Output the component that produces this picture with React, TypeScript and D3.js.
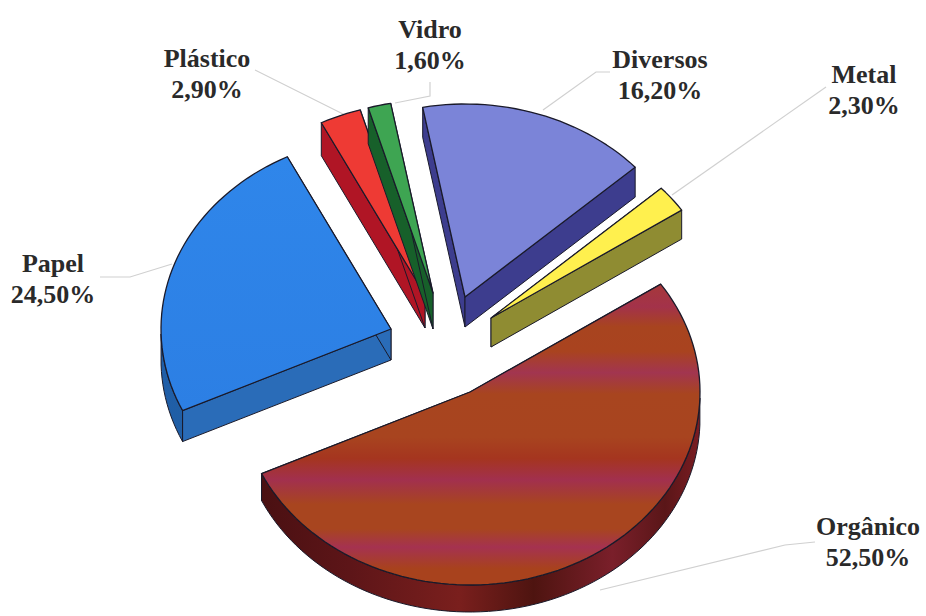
import React from "react";
import * as d3 from "d3";

const categories = ["Orgânico", "Papel", "Plástico", "Vidro", "Diversos", "Metal"];
const percentages = [52.5, 24.5, 2.9, 1.6, 16.2, 2.3];
const percentLabels = ["52,50%", "24,50%", "2,90%", "1,60%", "16,20%", "2,30%"];

// layout of the exploded slices (apex of each slice on the page)
const apexX = [470, 391, 425, 433, 465, 491];
const apexY = [392, 329, 295, 293, 297, 318];
const depths = [27, 31, 33, 36, 30, 29];
const topFills = ["url(#stripes)", "url(#papelTop)", "#ee3a34", "#3ea552", "#7b84d8", "#fff04e"];
const wallFills = ["url(#organicWall)", "url(#papelWall)", "#a81424", "#1f6e34", "url(#diversosWall)", "url(#metalWall)"];
const radialFills = ["#6e1614", "#2a6cb8", "#b01525", "#17602a", "#3d3d8e", "#8f8c32"];

const labelX = [868, 53, 207, 430, 660, 864];
const labelY = [527, 264, 59, 30, 60, 75];
const leaders: [number, number][][] = [
  [[815, 542], [785, 545], [600, 590]],
  [[100, 277], [130, 277], [172, 264]],
  [[255, 70], [345, 115]],
  [[430, 82], [430, 96], [395, 103]],
  [[610, 72], [596, 72], [543, 110]],
  [[826, 87], [672, 195]],
];

const stripeOffsets = [0, 0.075, 0.14, 0.22, 0.29, 0.36, 0.5, 0.57, 0.64, 0.72, 0.8, 0.86, 0.93, 1];
const stripeColors = ["#a6383a", "#a3324a", "#a8441f", "#a9431f", "#a23550", "#a8451f", "#a8441f", "#a5351f", "#a2304e", "#a8451f", "#a8451f", "#a53250", "#a8421d", "#a8421d"];

const RX = 230;
const RY = 193;
const DEG = Math.PI / 180;
const START = 56 * DEG;

const pieGen = d3.pie<number>().sort(null).startAngle(START).endAngle(START + 2 * Math.PI);
const arcs = pieGen(percentages);
const lineGen = d3.line<[number, number]>();

export default function App() {
  const slices = arcs.map((a, i) => {
    const sx = d3.scaleLinear().domain([-1, 1]).range([apexX[i] - RX, apexX[i] + RX]);
    const sy = d3.scaleLinear().domain([-1, 1]).range([apexY[i] - RY, apexY[i] + RY]);
    const pt = (t: number, dz = 0): [number, number] => [sx(Math.sin(t)), sy(-Math.cos(t)) + dz];
    const n = Math.max(4, Math.ceil((a.endAngle - a.startAngle) / (2 * DEG)));
    const angles = d3.range(n + 1).map((k) => a.startAngle + ((a.endAngle - a.startAngle) * k) / n);
    const apex: [number, number] = [sx(0), sy(0)];
    const d = depths[i];
    const apexLow: [number, number] = [apex[0], apex[1] + d];
    const top = lineGen([apex, ...angles.map((t) => pt(t))]) + "Z";
    // outer wall: only the part of the rim facing the viewer
    const front = angles.filter((t) => Math.cos(t) < 0);
    const wall = front.length > 1
      ? lineGen([...front.map((t) => pt(t)), ...front.slice().reverse().map((t) => pt(t, d))]) + "Z"
      : null;
    const face = (t: number) => lineGen([apex, pt(t), pt(t, d), apexLow]) + "Z";
    return { i, top, wall, startFace: face(a.startAngle), endFace: face(a.endAngle) };
  });

  return (
    <svg
      width={926}
      height={616}
      viewBox="0 0 926 616"
      style={{ position: "absolute", left: 0, top: 0, background: "#fff", display: "block" }}
    >
      <defs>
        <linearGradient id="stripes" gradientUnits="userSpaceOnUse" x1="0" x2="0" y1="284" y2="590">
          {stripeOffsets.map((o, k) => (
            <stop key={k} offset={o} stopColor={stripeColors[k]} />
          ))}
        </linearGradient>
        <linearGradient id="papelTop" x1="0" x2="0" y1="0" y2="1">
          <stop offset="0" stopColor="#2f86ea" />
          <stop offset="1" stopColor="#2c7fe4" />
        </linearGradient>
        <linearGradient id="organicWall" gradientUnits="userSpaceOnUse" x1="262" x2="700" y1="0" y2="0">
          <stop offset="0" stopColor="#4a1012" />
          <stop offset="0.2" stopColor="#5d1518" />
          <stop offset="0.45" stopColor="#7a1f1d" />
          <stop offset="0.62" stopColor="#4e1410" />
          <stop offset="0.8" stopColor="#7a1f2a" />
          <stop offset="0.92" stopColor="#5a1618" />
          <stop offset="1" stopColor="#7a1c22" />
        </linearGradient>
        <linearGradient id="papelWall" gradientUnits="userSpaceOnUse" x1="160" x2="390" y1="0" y2="0">
          <stop offset="0" stopColor="#1f5ea8" />
          <stop offset="0.3" stopColor="#235f9f" />
          <stop offset="0.55" stopColor="#1d4f88" />
          <stop offset="0.8" stopColor="#2567a8" />
          <stop offset="1" stopColor="#1e5a9c" />
        </linearGradient>
        <linearGradient id="diversosWall" gradientUnits="userSpaceOnUse" x1="460" x2="640" y1="0" y2="0">
          <stop offset="0" stopColor="#33337c" />
          <stop offset="0.5" stopColor="#3d3d8c" />
          <stop offset="1" stopColor="#4a4a9c" />
        </linearGradient>
        <linearGradient id="metalWall" x1="0" x2="0" y1="0" y2="1">
          <stop offset="0" stopColor="#8f8c32" />
          <stop offset="1" stopColor="#a09c3e" />
        </linearGradient>
      </defs>

      {leaders.map((l, i) => (
        <path key={i} d={lineGen(l) ?? ""} fill="none" stroke="#d0d0d0" strokeWidth={1.2} />
      ))}

      {slices.map((s) => (
        <g key={s.i} stroke="#1a1a2a" strokeWidth={1} strokeLinejoin="round">
          <path d={s.startFace} fill={radialFills[s.i]} />
          <path d={s.endFace} fill={radialFills[s.i]} />
          {s.wall && <path d={s.wall} fill={wallFills[s.i]} />}
          <path d={s.top} fill={topFills[s.i]} strokeWidth={1.3} />
        </g>
      ))}

      {categories.map((c, i) => (
        <text
          key={c}
          x={labelX[i]}
          textAnchor="middle"
          fontFamily="'Liberation Serif', serif"
          fontWeight="bold"
          fontSize={26}
          fill="#2a2a2a"
        >
          <tspan x={labelX[i]} y={labelY[i] + 8}>{c}</tspan>
          <tspan x={labelX[i]} y={labelY[i] + 8 + 31}>{percentLabels[i]}</tspan>
        </text>
      ))}
    </svg>
  );
}
